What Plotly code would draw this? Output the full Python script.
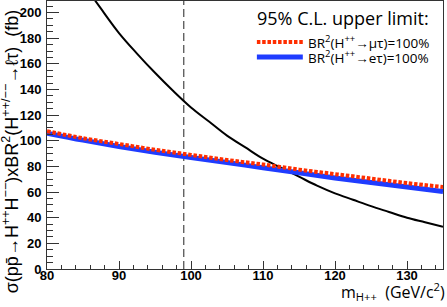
import plotly.graph_objects as go

# ---- data ----
mass = [80, 85, 90, 95, 100, 105, 110, 115, 120, 125, 130, 135]
limit_mutau = [107.5, 102, 97.5, 93, 89, 85, 81.5, 77.5, 74, 70.5, 67, 64]
limit_etau = [106, 100.5, 95.5, 91, 87, 83, 79, 75, 71, 67.5, 64, 60.5]
theory_mass = [80, 82.5, 85, 87.5, 90, 92.5, 95, 97.5, 100, 102.5, 105, 107.5, 110,
               112.5, 115, 117.5, 120, 122.5, 125, 127.5, 130, 132.5, 135]
theory_xsec = [270, 245, 223, 203, 184, 168, 153, 139, 126, 115, 104, 95, 86,
               79, 72, 65, 59, 54, 49, 44.5, 40, 36.5, 33]
lep_limit_mass = 99.0
x_range = [80, 135]
y_range = [0, 209]
x_ticks = [80, 90, 100, 110, 120, 130]
y_ticks = [0, 20, 40, 60, 80, 100, 120, 140, 160, 180, 200]

fig = go.Figure()

fig.add_trace(go.Scatter(x=[lep_limit_mass, lep_limit_mass], y=y_range, mode="lines",
                         line=dict(color="#222222", width=1, dash="8px,4px"),
                         showlegend=False, hoverinfo="skip"))
fig.add_trace(go.Scatter(x=theory_mass, y=theory_xsec, mode="lines",
                         line=dict(color="black", width=2, shape="spline"),
                         showlegend=False))
fig.add_trace(go.Scatter(x=mass, y=limit_etau, mode="lines",
                         line=dict(color="#1f3cff", width=5, shape="spline"),
                         showlegend=False))
fig.add_trace(go.Scatter(x=mass, y=limit_mutau, mode="lines",
                         line=dict(color="#ff2e00", width=4, dash="3.5px,1.8px", shape="spline"),
                         showlegend=False))

tickfont = dict(family="Liberation Sans, Arial, sans-serif", size=13, color="black", weight="bold")

fig.update_xaxes(range=x_range, tickvals=x_ticks, ticks="inside", ticklen=8, tickwidth=1,
                 tickcolor="#333", showgrid=False, zeroline=False, showline=True,
                 linecolor="#333", linewidth=1, mirror=True, automargin=False,
                 minor=dict(dtick=2, ticks="inside", ticklen=4, tickcolor="#333", showgrid=False),
                 tickfont=tickfont, ticklabelstandoff=-6)
fig.update_yaxes(range=y_range, tickvals=y_ticks, ticks="inside", ticklen=12, tickwidth=1,
                 tickcolor="#333", showgrid=False, zeroline=False, showline=True,
                 linecolor="#333", linewidth=1, mirror=True, automargin=False,
                 minor=dict(dtick=5, ticks="inside", ticklen=6, tickcolor="#333", showgrid=False),
                 tickfont=tickfont, ticklabelstandoff=2)

fig.update_layout(
    width=447, height=307,
    margin=dict(l=47, r=4, t=1, b=38),
    plot_bgcolor="white", paper_bgcolor="white",
    font=dict(family="Liberation Sans, Arial, sans-serif", color="black"),
)

# legend (drawn manually)
legfont = "Open Sans, Liberation Sans, sans-serif"
fig.add_shape(type="rect", xref="paper", yref="paper", x0=0.52, x1=0.999, y0=0.72, y1=0.997,
              fillcolor="white", line=dict(width=0), layer="above")
fig.add_annotation(xref="paper", yref="paper", x=0.525, y=0.935, xanchor="left", yanchor="middle",
                   text="95% C.L. upper limit:", showarrow=False,
                   font=dict(size=18, family=legfont))
fig.add_shape(type="line", xref="paper", yref="paper", x0=0.530, x1=0.646, y0=0.847, y1=0.847,
              line=dict(color="#ff2e00", width=4, dash="3.5px,1.8px"))
fig.add_shape(type="line", xref="paper", yref="paper", x0=0.530, x1=0.646, y0=0.791, y1=0.791,
              line=dict(color="#1f3cff", width=5))
fig.add_annotation(xref="paper", yref="paper", x=0.654, y=0.847, xanchor="left", yanchor="middle",
                   text="BR<sup>2</sup>(H<sup>++</sup>→μτ)=100%", showarrow=False,
                   font=dict(size=13.5, family=legfont))
fig.add_annotation(xref="paper", yref="paper", x=0.654, y=0.791, xanchor="left", yanchor="middle",
                   text="BR<sup>2</sup>(H<sup>++</sup>→eτ)=100%", showarrow=False,
                   font=dict(size=13.5, family=legfont))

# axis titles
fig.add_annotation(xref="paper", yref="paper", x=1.01, y=-0.137, xanchor="right", yanchor="bottom",
                   text="m<sub>H++</sub>  (GeV/c<sup>2</sup>)", showarrow=False,
                   font=dict(size=16, family=legfont))
fig.add_annotation(xref="paper", yref="paper", x=-0.09, y=0.437, xanchor="center", yanchor="middle",
                   textangle=-90,
                   text="σ(pp\u0304→H<sup>++</sup>H<sup>−−</sup>)xBR<sup>2</sup>(H<sup>++/−−</sup>→ℓτ)  (fb)",
                   showarrow=False,
                   font=dict(size=18, family="Liberation Sans, Arial, sans-serif"))

fig.write_html("out.html", config={"displayModeBar": False},
               post_script="document.body.style.margin='0';document.body.style.overflow='hidden';")
